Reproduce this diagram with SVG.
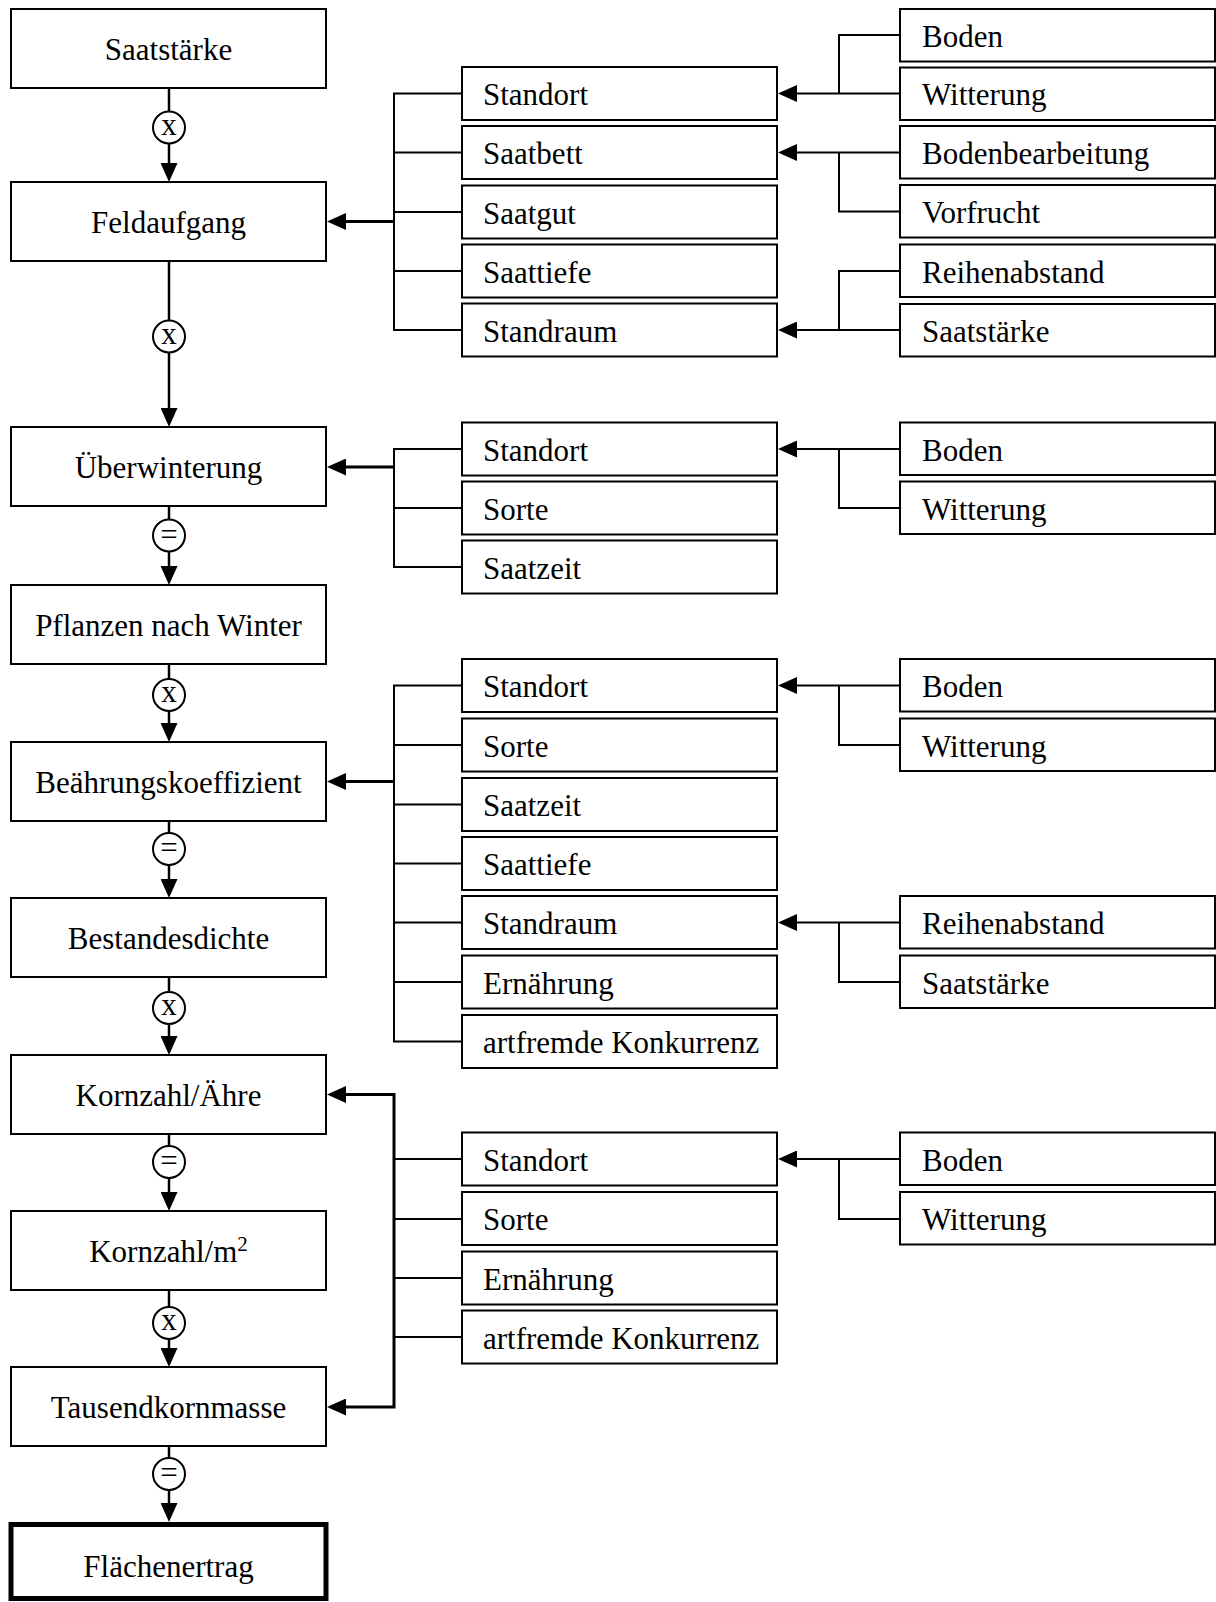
<svg xmlns="http://www.w3.org/2000/svg" width="1216" height="1602" viewBox="0 0 1216 1602">
<style>
.bx{fill:#fff;stroke:#000;stroke-width:2}
.bxb{fill:#fff;stroke:#000;stroke-width:5}
.t{font-family:"Liberation Serif","Times New Roman",serif;font-size:31px;fill:#000}
.tc{text-anchor:middle}
.op{fill:#fff;stroke:#000;stroke-width:2}
.ot{font-family:"Liberation Serif","Times New Roman",serif;font-size:31px;fill:#000;text-anchor:middle}
.ln{fill:none;stroke:#000;stroke-width:2}
.lm{fill:none;stroke:#000;stroke-width:2.5}
.lf{fill:none;stroke:#000;stroke-width:3}
.ar{marker-end:url(#ah)}
</style>
<defs>
<marker id="ah" markerUnits="userSpaceOnUse" markerWidth="19" markerHeight="17" viewBox="0 0 19 17" refX="9" refY="8.5" orient="auto">
<path d="M0,0 L19,8.5 L0,17 z" fill="#000"/>
</marker>
</defs>

<g id="connectors">
<!-- main column -->
<path class="lm ar" d="M169,88 V172"/>
<path class="lm ar" d="M169,261 V417"/>
<path class="lm ar" d="M169,506 V575"/>
<path class="lm ar" d="M169,664 V732"/>
<path class="lm ar" d="M169,821 V888"/>
<path class="lm ar" d="M169,977 V1045"/>
<path class="lm ar" d="M169,1134 V1201"/>
<path class="lm ar" d="M169,1290 V1357"/>
<path class="lm ar" d="M169,1446 V1512"/>
<!-- group 1 -->
<path class="ln" d="M462,93.5 H394 V330 H462 M394,152.5 H462 M394,212 H462 M394,271 H462"/>
<path class="lf ar" d="M394,221.5 H337"/>
<path class="ln" d="M900,35 H839 V93.5"/>
<path class="ln ar" d="M900,93.5 H788"/>
<path class="ln ar" d="M900,152.5 H788"/>
<path class="ln" d="M839,152.5 V211.5 H900"/>
<path class="ln" d="M900,271 H839 V330"/>
<path class="ln ar" d="M900,330 H788"/>
<!-- group 2 -->
<path class="ln" d="M462,449 H394 V567 H462 M394,508 H462"/>
<path class="lf ar" d="M394,467 H337"/>
<path class="ln ar" d="M900,449 H788"/>
<path class="ln" d="M839,449 V508 H900"/>
<!-- group 3 -->
<path class="ln" d="M462,685.5 H394 V1041.5 H462 M394,745 H462 M394,804.5 H462 M394,863.5 H462 M394,922.5 H462 M394,982 H462"/>
<path class="lf ar" d="M394,781.5 H337"/>
<path class="ln ar" d="M900,685.5 H788"/>
<path class="ln" d="M839,685.5 V745 H900"/>
<path class="ln ar" d="M900,922.5 H788"/>
<path class="ln" d="M839,922.5 V982 H900"/>
<!-- group 4 -->
<path class="lf ar" d="M394,1250 V1094.5 H337"/>
<path class="lf ar" d="M394,1250 V1407 H337"/>
<path class="ln" d="M394,1159 H462 M394,1219 H462 M394,1278 H462 M394,1337 H462"/>
<path class="ln ar" d="M900,1159 H788"/>
<path class="ln" d="M839,1159 V1219 H900"/>
</g>

<g id="operators">
<g id="op1"><circle class="op" cx="169" cy="127.5" r="16"/><text class="ot" x="169" y="134.5">x</text></g>
<g id="op2"><circle class="op" cx="169" cy="336.5" r="16"/><text class="ot" x="169" y="343.5">x</text></g>
<g id="op3"><circle class="op" cx="169" cy="535.5" r="16"/><text class="ot" x="169" y="544.5">=</text></g>
<g id="op4"><circle class="op" cx="169" cy="695" r="16"/><text class="ot" x="169" y="702">x</text></g>
<g id="op5"><circle class="op" cx="169" cy="849" r="16"/><text class="ot" x="169" y="858">=</text></g>
<g id="op6"><circle class="op" cx="169" cy="1008" r="16"/><text class="ot" x="169" y="1015">x</text></g>
<g id="op7"><circle class="op" cx="169" cy="1162" r="16"/><text class="ot" x="169" y="1171">=</text></g>
<g id="op8"><circle class="op" cx="169" cy="1323" r="16"/><text class="ot" x="169" y="1330">x</text></g>
<g id="op9"><circle class="op" cx="169" cy="1474" r="16"/><text class="ot" x="169" y="1483">=</text></g>
</g>

<!-- main column nodes -->
<g id="saatstaerke"><rect class="bx" x="11" y="9" width="315" height="79"/><text class="t tc" x="168.5" y="60">Saatstärke</text></g>
<g id="feldaufgang"><rect class="bx" x="11" y="182" width="315" height="79"/><text class="t tc" x="168.5" y="233">Feldaufgang</text></g>
<g id="ueberwinterung"><rect class="bx" x="11" y="427" width="315" height="79"/><text class="t tc" x="168.5" y="478">Überwinterung</text></g>
<g id="pflanzen"><rect class="bx" x="11" y="585" width="315" height="79"/><text class="t tc" x="168.5" y="636">Pflanzen nach Winter</text></g>
<g id="beaehrung"><rect class="bx" x="11" y="742" width="315" height="79"/><text class="t tc" x="168.5" y="793">Beährungskoeffizient</text></g>
<g id="bestandesdichte"><rect class="bx" x="11" y="898" width="315" height="79"/><text class="t tc" x="168.5" y="949">Bestandesdichte</text></g>
<g id="kornzahl_aehre"><rect class="bx" x="11" y="1055" width="315" height="79"/><text class="t tc" x="168.5" y="1106">Kornzahl/Ähre</text></g>
<g id="kornzahl_m2"><rect class="bx" x="11" y="1211" width="315" height="79"/><text class="t tc" x="168.5" y="1262">Kornzahl/m<tspan font-size="21" dy="-11">2</tspan></text></g>
<g id="tkm"><rect class="bx" x="11" y="1367" width="315" height="79"/><text class="t tc" x="168.5" y="1418">Tausendkornmasse</text></g>
<g id="flaechenertrag"><rect class="bxb" x="11" y="1524.5" width="315" height="74"/><text class="t tc" x="168.5" y="1577">Flächenertrag</text></g>

<!-- group 1 middle -->
<g id="g1_standort"><rect class="bx" x="462" y="67" width="315" height="53"/><text class="t" x="483" y="105">Standort</text></g>
<g id="g1_saatbett"><rect class="bx" x="462" y="126" width="315" height="53"/><text class="t" x="483" y="164">Saatbett</text></g>
<g id="g1_saatgut"><rect class="bx" x="462" y="185.5" width="315" height="53"/><text class="t" x="483" y="223.5">Saatgut</text></g>
<g id="g1_saattiefe"><rect class="bx" x="462" y="244.5" width="315" height="53"/><text class="t" x="483" y="282.5">Saattiefe</text></g>
<g id="g1_standraum"><rect class="bx" x="462" y="303.5" width="315" height="53"/><text class="t" x="483" y="341.5">Standraum</text></g>
<!-- group 1 right -->
<g id="g1_boden"><rect class="bx" x="900" y="9" width="315" height="52.5"/><text class="t" x="922" y="47">Boden</text></g>
<g id="g1_witterung"><rect class="bx" x="900" y="67.5" width="315" height="52.5"/><text class="t" x="922" y="105">Witterung</text></g>
<g id="g1_bodenbearbeitung"><rect class="bx" x="900" y="126" width="315" height="52.5"/><text class="t" x="922" y="164">Bodenbearbeitung</text></g>
<g id="g1_vorfrucht"><rect class="bx" x="900" y="185" width="315" height="52.5"/><text class="t" x="922" y="223">Vorfrucht</text></g>
<g id="g1_reihenabstand"><rect class="bx" x="900" y="244.5" width="315" height="52.5"/><text class="t" x="922" y="282.5">Reihenabstand</text></g>
<g id="g1_saatstaerke"><rect class="bx" x="900" y="304" width="315" height="52.5"/><text class="t" x="922" y="342">Saatstärke</text></g>

<!-- group 2 -->
<g id="g2_standort"><rect class="bx" x="462" y="422.5" width="315" height="53"/><text class="t" x="483" y="460.5">Standort</text></g>
<g id="g2_sorte"><rect class="bx" x="462" y="481.5" width="315" height="53"/><text class="t" x="483" y="519.5">Sorte</text></g>
<g id="g2_saatzeit"><rect class="bx" x="462" y="540.5" width="315" height="53"/><text class="t" x="483" y="578.5">Saatzeit</text></g>
<g id="g2_boden"><rect class="bx" x="900" y="422.5" width="315" height="52.5"/><text class="t" x="922" y="460.5">Boden</text></g>
<g id="g2_witterung"><rect class="bx" x="900" y="481.5" width="315" height="52.5"/><text class="t" x="922" y="519.5">Witterung</text></g>

<!-- group 3 -->
<g id="g3_standort"><rect class="bx" x="462" y="659" width="315" height="53"/><text class="t" x="483" y="697">Standort</text></g>
<g id="g3_sorte"><rect class="bx" x="462" y="718.5" width="315" height="53"/><text class="t" x="483" y="756.5">Sorte</text></g>
<g id="g3_saatzeit"><rect class="bx" x="462" y="778" width="315" height="53"/><text class="t" x="483" y="816">Saatzeit</text></g>
<g id="g3_saattiefe"><rect class="bx" x="462" y="837" width="315" height="53"/><text class="t" x="483" y="875">Saattiefe</text></g>
<g id="g3_standraum"><rect class="bx" x="462" y="896" width="315" height="53"/><text class="t" x="483" y="934">Standraum</text></g>
<g id="g3_ernaehrung"><rect class="bx" x="462" y="955.5" width="315" height="53"/><text class="t" x="483" y="993.5">Ernährung</text></g>
<g id="g3_artfremde"><rect class="bx" x="462" y="1015" width="315" height="53"/><text class="t" x="483" y="1053">artfremde Konkurrenz</text></g>
<g id="g3_boden"><rect class="bx" x="900" y="659" width="315" height="52.5"/><text class="t" x="922" y="697">Boden</text></g>
<g id="g3_witterung"><rect class="bx" x="900" y="718.5" width="315" height="52.5"/><text class="t" x="922" y="756.5">Witterung</text></g>
<g id="g3_reihenabstand"><rect class="bx" x="900" y="896" width="315" height="52.5"/><text class="t" x="922" y="934">Reihenabstand</text></g>
<g id="g3_saatstaerke"><rect class="bx" x="900" y="955.5" width="315" height="52.5"/><text class="t" x="922" y="993.5">Saatstärke</text></g>

<!-- group 4 -->
<g id="g4_standort"><rect class="bx" x="462" y="1132.5" width="315" height="53"/><text class="t" x="483" y="1170.5">Standort</text></g>
<g id="g4_sorte"><rect class="bx" x="462" y="1192" width="315" height="53"/><text class="t" x="483" y="1230">Sorte</text></g>
<g id="g4_ernaehrung"><rect class="bx" x="462" y="1251.5" width="315" height="53"/><text class="t" x="483" y="1289.5">Ernährung</text></g>
<g id="g4_artfremde"><rect class="bx" x="462" y="1310.5" width="315" height="53"/><text class="t" x="483" y="1348.5">artfremde Konkurrenz</text></g>
<g id="g4_boden"><rect class="bx" x="900" y="1132.5" width="315" height="52.5"/><text class="t" x="922" y="1170.5">Boden</text></g>
<g id="g4_witterung"><rect class="bx" x="900" y="1192" width="315" height="52.5"/><text class="t" x="922" y="1230">Witterung</text></g>
</svg>
